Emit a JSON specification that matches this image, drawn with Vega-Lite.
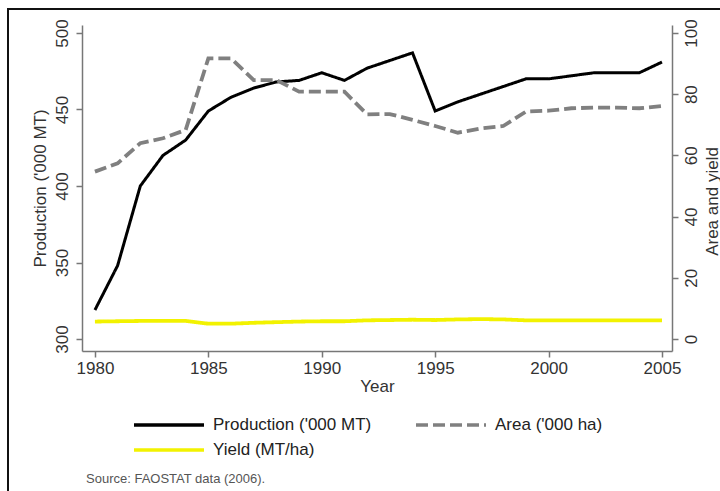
{
  "$schema": "https://vega.github.io/schema/vega-lite/v6.json",
  "width": 712,
  "height": 482,
  "autosize": {"type": "none"},
  "padding": {"left": 8, "top": 9, "right": 0, "bottom": 0},
  "background": "white",
  "config": {
    "font": "Liberation Sans",
    "view": {"stroke": "#111111", "strokeWidth": 2, "strokeDash": [712, 1194, 482]},
    "axis": {
      "domainColor": "#777777",
      "domainWidth": 1.5,
      "tickColor": "#777777",
      "tickWidth": 1.5,
      "tickSize": 6,
      "grid": false,
      "labelFont": "Liberation Sans",
      "labelFontSize": 17,
      "labelColor": "#333333",
      "titleFont": "Liberation Sans",
      "titleFontSize": 17,
      "titleFontWeight": "normal",
      "titleColor": "#333333"
    },
    "legend": {
      "labelFont": "Liberation Sans",
      "labelFontSize": 17,
      "labelColor": "#222222"
    }
  },
  "title": {
    "text": "Source: FAOSTAT data (2006).",
    "orient": "bottom",
    "anchor": "start",
    "frame": "group",
    "offset": -18,
    "dx": 78,
    "fontSize": 13,
    "fontWeight": "normal",
    "font": "Liberation Sans",
    "color": "#555555"
  },
  "data": {
    "values": [
      {"year": 1980, "series": "Production ('000 MT)", "value": 319},
      {"year": 1981, "series": "Production ('000 MT)", "value": 348},
      {"year": 1982, "series": "Production ('000 MT)", "value": 400},
      {"year": 1983, "series": "Production ('000 MT)", "value": 420},
      {"year": 1984, "series": "Production ('000 MT)", "value": 430},
      {"year": 1985, "series": "Production ('000 MT)", "value": 449},
      {"year": 1986, "series": "Production ('000 MT)", "value": 458},
      {"year": 1987, "series": "Production ('000 MT)", "value": 464},
      {"year": 1988, "series": "Production ('000 MT)", "value": 468},
      {"year": 1989, "series": "Production ('000 MT)", "value": 469},
      {"year": 1990, "series": "Production ('000 MT)", "value": 474},
      {"year": 1991, "series": "Production ('000 MT)", "value": 469},
      {"year": 1992, "series": "Production ('000 MT)", "value": 477},
      {"year": 1993, "series": "Production ('000 MT)", "value": 482},
      {"year": 1994, "series": "Production ('000 MT)", "value": 487},
      {"year": 1995, "series": "Production ('000 MT)", "value": 449},
      {"year": 1996, "series": "Production ('000 MT)", "value": 455},
      {"year": 1997, "series": "Production ('000 MT)", "value": 460},
      {"year": 1998, "series": "Production ('000 MT)", "value": 465},
      {"year": 1999, "series": "Production ('000 MT)", "value": 470},
      {"year": 2000, "series": "Production ('000 MT)", "value": 470},
      {"year": 2001, "series": "Production ('000 MT)", "value": 472},
      {"year": 2002, "series": "Production ('000 MT)", "value": 474},
      {"year": 2003, "series": "Production ('000 MT)", "value": 474},
      {"year": 2004, "series": "Production ('000 MT)", "value": 474},
      {"year": 2005, "series": "Production ('000 MT)", "value": 481},
      {"year": 1980, "series": "Area ('000 ha)", "value": 54.7},
      {"year": 1981, "series": "Area ('000 ha)", "value": 57.4},
      {"year": 1982, "series": "Area ('000 ha)", "value": 64.0},
      {"year": 1983, "series": "Area ('000 ha)", "value": 65.6},
      {"year": 1984, "series": "Area ('000 ha)", "value": 68.3},
      {"year": 1985, "series": "Area ('000 ha)", "value": 91.7},
      {"year": 1986, "series": "Area ('000 ha)", "value": 91.7},
      {"year": 1987, "series": "Area ('000 ha)", "value": 84.6},
      {"year": 1988, "series": "Area ('000 ha)", "value": 84.6},
      {"year": 1989, "series": "Area ('000 ha)", "value": 80.8},
      {"year": 1990, "series": "Area ('000 ha)", "value": 80.8},
      {"year": 1991, "series": "Area ('000 ha)", "value": 80.8},
      {"year": 1992, "series": "Area ('000 ha)", "value": 73.4},
      {"year": 1993, "series": "Area ('000 ha)", "value": 73.5},
      {"year": 1994, "series": "Area ('000 ha)", "value": 71.6},
      {"year": 1995, "series": "Area ('000 ha)", "value": 69.6},
      {"year": 1996, "series": "Area ('000 ha)", "value": 67.4},
      {"year": 1997, "series": "Area ('000 ha)", "value": 68.8},
      {"year": 1998, "series": "Area ('000 ha)", "value": 69.6},
      {"year": 1999, "series": "Area ('000 ha)", "value": 74.3},
      {"year": 2000, "series": "Area ('000 ha)", "value": 74.6},
      {"year": 2001, "series": "Area ('000 ha)", "value": 75.4},
      {"year": 2002, "series": "Area ('000 ha)", "value": 75.6},
      {"year": 2003, "series": "Area ('000 ha)", "value": 75.6},
      {"year": 2004, "series": "Area ('000 ha)", "value": 75.4},
      {"year": 2005, "series": "Area ('000 ha)", "value": 76.1},
      {"year": 1980, "series": "Yield (MT/ha)", "value": 5.7},
      {"year": 1981, "series": "Yield (MT/ha)", "value": 5.8},
      {"year": 1982, "series": "Yield (MT/ha)", "value": 5.9},
      {"year": 1983, "series": "Yield (MT/ha)", "value": 5.9},
      {"year": 1984, "series": "Yield (MT/ha)", "value": 5.9},
      {"year": 1985, "series": "Yield (MT/ha)", "value": 5.0},
      {"year": 1986, "series": "Yield (MT/ha)", "value": 5.0},
      {"year": 1987, "series": "Yield (MT/ha)", "value": 5.3},
      {"year": 1988, "series": "Yield (MT/ha)", "value": 5.5},
      {"year": 1989, "series": "Yield (MT/ha)", "value": 5.7},
      {"year": 1990, "series": "Yield (MT/ha)", "value": 5.8},
      {"year": 1991, "series": "Yield (MT/ha)", "value": 5.8},
      {"year": 1992, "series": "Yield (MT/ha)", "value": 6.1},
      {"year": 1993, "series": "Yield (MT/ha)", "value": 6.2},
      {"year": 1994, "series": "Yield (MT/ha)", "value": 6.3},
      {"year": 1995, "series": "Yield (MT/ha)", "value": 6.2},
      {"year": 1996, "series": "Yield (MT/ha)", "value": 6.4},
      {"year": 1997, "series": "Yield (MT/ha)", "value": 6.5},
      {"year": 1998, "series": "Yield (MT/ha)", "value": 6.4},
      {"year": 1999, "series": "Yield (MT/ha)", "value": 6.1},
      {"year": 2000, "series": "Yield (MT/ha)", "value": 6.1},
      {"year": 2001, "series": "Yield (MT/ha)", "value": 6.1},
      {"year": 2002, "series": "Yield (MT/ha)", "value": 6.1},
      {"year": 2003, "series": "Yield (MT/ha)", "value": 6.1},
      {"year": 2004, "series": "Yield (MT/ha)", "value": 6.1},
      {"year": 2005, "series": "Yield (MT/ha)", "value": 6.1}
    ]
  },
  "encoding": {
    "x": {
      "field": "year",
      "type": "quantitative",
      "scale": {"domain": [1979.43, 2005.44], "range": [74, 664], "nice": false, "zero": false},
      "axis": {
        "values": [1980, 1985, 1990, 1995, 2000, 2005],
        "format": "d",
        "title": "Year",
        "offset": -140,
        "labelPadding": 3,
        "titlePadding": 2,
        "labelFlush": false
      }
    },
    "stroke": {
      "field": "series",
      "type": "nominal",
      "scale": {
        "domain": ["Production ('000 MT)", "Area ('000 ha)", "Yield (MT/ha)"],
        "range": ["#000000", "#808080", "#f2f200"]
      },
      "legend": {
        "title": null,
        "orient": "none",
        "legendX": 152,
        "legendY": 407,
        "direction": "horizontal",
        "columns": 2,
        "columnPadding": 37,
        "rowPadding": 8,
        "symbolType": "M-5,0H5",
        "symbolSize": 196,
        "symbolStrokeWidth": 3.5,
        "labelOffset": 35,
        "labelLimit": 300
      }
    },
    "strokeDash": {
      "field": "series",
      "type": "nominal",
      "scale": {
        "domain": ["Production ('000 MT)", "Area ('000 ha)", "Yield (MT/ha)"],
        "range": [[1, 0], [12, 5], [1, 0]]
      },
      "legend": null
    }
  },
  "layer": [
    {
      "transform": [{"filter": "datum.series === \"Production ('000 MT)\""}],
      "mark": {"type": "line", "strokeWidth": 3},
      "encoding": {
        "y": {
          "field": "value",
          "type": "quantitative",
          "scale": {"domain": [292.2, 505.2], "range": [342, 16], "nice": false, "zero": false},
          "axis": {
            "orient": "left",
            "values": [300, 350, 400, 450, 500],
            "title": "Production ('000 MT)",
            "offset": -74,
            "labelAngle": 270,
            "labelAlign": "center",
            "labelBaseline": "bottom",
            "labelPadding": 5,
            "titlePadding": 4
          }
        }
      }
    },
    {
      "transform": [{"filter": "datum.series !== \"Production ('000 MT)\""}],
      "mark": {"type": "line", "strokeWidth": 3.8},
      "encoding": {
        "y": {
          "field": "value",
          "type": "quantitative",
          "scale": {"domain": [-3.92, 102.6], "range": [342, 16], "nice": false, "zero": false},
          "axis": {
            "orient": "right",
            "values": [0, 20, 40, 60, 80, 100],
            "title": "Area and yield",
            "offset": -48,
            "labelAngle": 270,
            "labelAlign": "center",
            "labelBaseline": "top",
            "labelPadding": 5,
            "titleAngle": 270,
            "titleBaseline": "top",
            "titlePadding": 5,
            "titleY": 192
          }
        }
      }
    }
  ],
  "resolve": {"scale": {"y": "independent"}}
}
